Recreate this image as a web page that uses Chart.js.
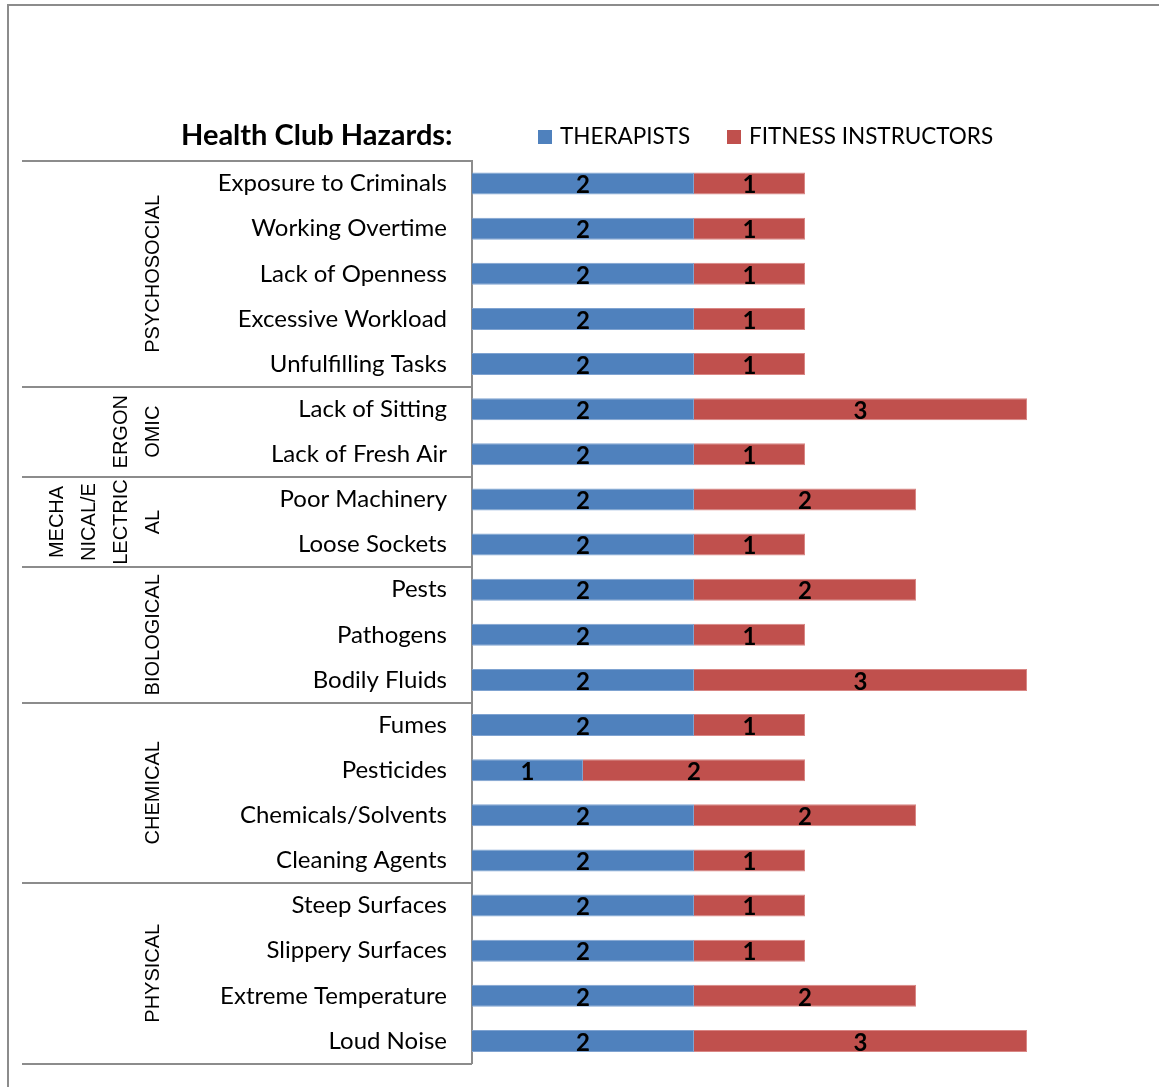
<!DOCTYPE html>
<html>
<head>
<meta charset="utf-8">
<title>Health Club Hazards</title>
<script src="https://cdn.jsdelivr.net/npm/chart.js@4"></script>
<style>
  html, body { margin: 0; padding: 0; background: #fff; }
  #wrap { position: relative; width: 1159px; height: 1087px; }
</style>
</head>
<body>
<div id="wrap"><canvas id="chart" width="1159" height="1087"></canvas></div>
<script>
// Hazard categories, top to bottom
const categories = [
  'Exposure to Criminals', 'Working Overtime', 'Lack of Openness', 'Excessive Workload', 'Unfulfilling Tasks',
  'Lack of Sitting', 'Lack of Fresh Air',
  'Poor Machinery', 'Loose Sockets',
  'Pests', 'Pathogens', 'Bodily Fluids',
  'Fumes', 'Pesticides', 'Chemicals/Solvents', 'Cleaning Agents',
  'Steep Surfaces', 'Slippery Surfaces', 'Extreme Temperature', 'Loud Noise'
];

// Hazard groups: label lines and how many categories each group spans
const groupLabels = [
  ['PSYCHOSOCIAL'],
  ['ERGON', 'OMIC'],
  ['MECHA', 'NICAL/E', 'LECTRIC', 'AL'],
  ['BIOLOGICAL'],
  ['CHEMICAL'],
  ['PHYSICAL']
];
const groupSizes = [5, 2, 2, 3, 4, 4];

const seriesNames = ['THERAPISTS', 'FITNESS INSTRUCTORS'];
const therapists = [2, 2, 2, 2, 2, 2, 2, 2, 2, 2, 2, 2, 2, 1, 2, 2, 2, 2, 2, 2];
const fitnessInstructors = [1, 1, 1, 1, 1, 3, 1, 2, 1, 2, 1, 3, 1, 2, 2, 1, 1, 1, 2, 3];

const chartTitle = 'Health Club Hazards:';

const BLUE = '#4F81BD';
const RED = '#C0504D';
const LINE = '#8C8C8C';
const AXIS_LEFT = 472;

// Outer frame, header (title + legend), group column and separators
const decorations = {
  id: 'decorations',
  beforeDraw(chart) {
    const ctx = chart.ctx;
    ctx.save();
    ctx.strokeStyle = LINE;
    ctx.lineWidth = 2;
    ctx.beginPath();
    ctx.moveTo(8, 1087);
    ctx.lineTo(8, 5);
    ctx.lineTo(1159, 5);
    ctx.stroke();
    ctx.restore();
  },
  afterDraw(chart) {
    const ctx = chart.ctx;
    const y = chart.scales.y;
    const area = chart.chartArea;
    ctx.save();

    // Title
    ctx.fillStyle = '#000';
    ctx.textBaseline = 'middle';
    ctx.textAlign = 'left';
    ctx.font = 'bold 29px Lato';
    ctx.fillText(chartTitle, 181, 136);

    // Legend
    ctx.font = '22.5px Lato';
    const legendX = [538, 727];
    const colors = chart.data.datasets.map(d => d.backgroundColor);
    seriesNames.forEach((name, i) => {
      ctx.fillStyle = colors[i];
      ctx.fillRect(legendX[i], 130, 14, 14);
      ctx.fillStyle = '#000';
      ctx.fillText(name, legendX[i] + 22, 137);
    });

    // Group separators
    ctx.strokeStyle = LINE;
    ctx.lineWidth = 2;
    const half = (y.getPixelForValue(1) - y.getPixelForValue(0)) / 2;
    let start = 0;
    const bounds = [area.top];
    groupSizes.forEach(n => {
      start += n;
      bounds.push(y.getPixelForValue(start - 1) + half);
    });
    bounds.forEach(by => {
      ctx.beginPath();
      ctx.moveTo(22, Math.round(by));
      ctx.lineTo(AXIS_LEFT, Math.round(by));
      ctx.stroke();
    });

    // Rotated group labels
    ctx.fillStyle = '#000';
    ctx.font = '20px "Liberation Sans"';
    ctx.textAlign = 'center';
    ctx.textBaseline = 'middle';
    groupLabels.forEach((lines, g) => {
      const cy = (bounds[g] + bounds[g + 1]) / 2;
      const n = lines.length;
      lines.forEach((line, i) => {
        const cx = 152 - 32 * (n - 1 - i);
        ctx.save();
        ctx.translate(cx, cy);
        ctx.rotate(-Math.PI / 2);
        ctx.fillText(line, 0, 1);
        ctx.restore();
      });
    });

    // Value labels centred in each bar segment
    ctx.font = 'bold 24px Lato';
    ctx.fillStyle = '#000';
    chart.data.datasets.forEach((ds, di) => {
      const meta = chart.getDatasetMeta(di);
      meta.data.forEach((bar, i) => {
        const v = ds.data[i];
        const cx = (bar.x + bar.base) / 2;
        ctx.fillText(String(v), cx, bar.y + 2);
      });
    });
    ctx.restore();
  }
};

new Chart(document.getElementById('chart'), {
  type: 'bar',
  data: {
    labels: categories,
    datasets: [
      { label: seriesNames[0], data: therapists, backgroundColor: BLUE, borderColor: '#7FA3D1', borderWidth: 1 },
      { label: seriesNames[1], data: fitnessInstructors, backgroundColor: RED, borderColor: '#D98684', borderWidth: 1 }
    ]
  },
  options: {
    indexAxis: 'y',
    responsive: false,
    animation: false,
    layout: { padding: { left: 0, top: 161, right: 132, bottom: 23.5 } },
    datasets: { bar: { categoryPercentage: 0.49, barPercentage: 1 } },
    plugins: { legend: { display: false }, title: { display: false }, tooltip: { enabled: false } },
    scales: {
      x: { stacked: true, min: 0, max: 5, display: false },
      y: {
        stacked: true,
        grid: { display: false },
        border: { display: true, color: LINE, width: 2 },
        ticks: { color: '#000', font: { family: 'Lato', size: 24 }, padding: 17, autoSkip: false },
        afterFit(scale) {
          scale.width = AXIS_LEFT;
          scale.paddingTop = 0;
          scale.paddingBottom = 0;
        }
      }
    }
  },
  plugins: [decorations]
});
</script>
</body>
</html>
